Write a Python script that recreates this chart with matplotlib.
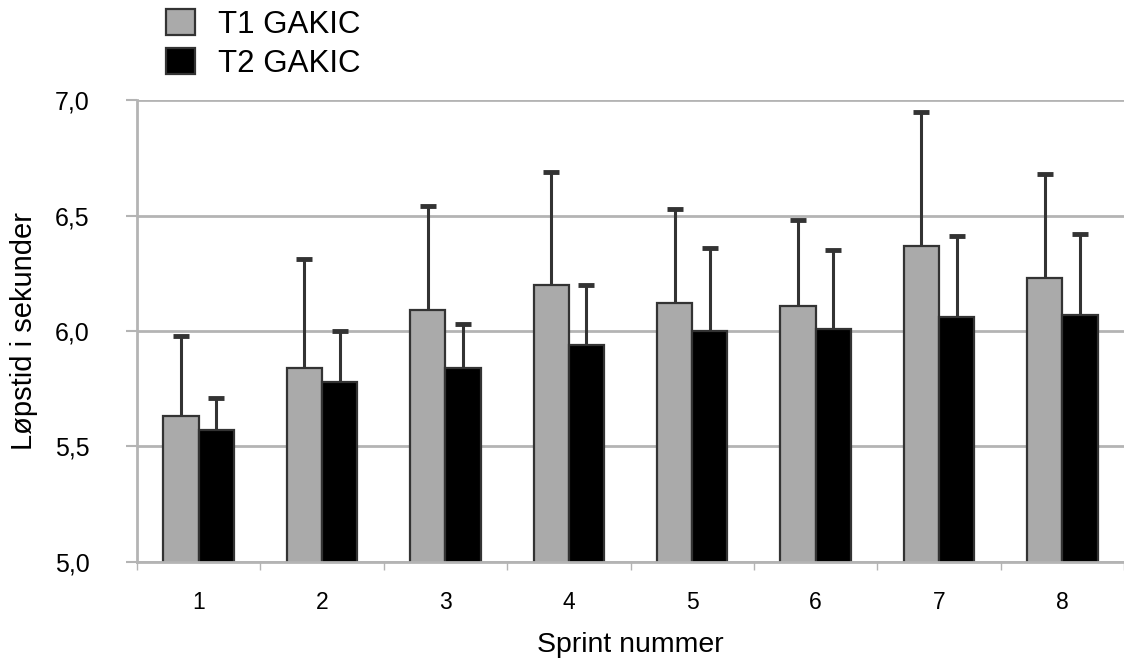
import matplotlib.pyplot as plt
import numpy as np
from matplotlib.patches import Patch
from matplotlib.ticker import FuncFormatter

plt.rcParams['font.family'] = ['Liberation Sans', 'DejaVu Sans']

sprints = [1, 2, 3, 4, 5, 6, 7, 8]
t1_mean = [5.63, 5.84, 6.09, 6.20, 6.12, 6.11, 6.37, 6.23]
t1_sd = [0.35, 0.47, 0.45, 0.49, 0.41, 0.37, 0.58, 0.45]
t2_mean = [5.57, 5.78, 5.84, 5.94, 6.00, 6.01, 6.06, 6.07]
t2_sd = [0.14, 0.22, 0.19, 0.26, 0.36, 0.34, 0.35, 0.35]

x = np.array(sprints)
w = 0.286
grey = '#aaaaaa'
edge = '#333333'
gridc = '#b4b4b4'

fig = plt.figure(figsize=(11.24, 6.61), dpi=100)
ax = fig.add_axes([0.1219, 0.1498, 0.8781, 0.6989])

ax.set_axisbelow(True)
ax.yaxis.grid(True, color=gridc, lw=2)

ax.bar(x - w/2, t1_mean, w, color=grey, edgecolor=edge, lw=1.6, zorder=2)
ax.bar(x + w/2, t2_mean, w, color='black', edgecolor=edge, lw=1.6, zorder=2)

# only the upper half of the SD is shown, so drop the lower caps
for xs, m, sd in [(x - w/2, t1_mean, t1_sd), (x + w/2, t2_mean, t2_sd)]:
    eb = ax.errorbar(xs, m, yerr=[np.zeros(8), sd], fmt='none', ecolor=edge,
                     elinewidth=2.2, capsize=6, capthick=3.5, zorder=3)
    eb[1][0].set_visible(False)

ax.set_ylim(5.0, 7.0)
ax.set_xlim(0.5, 8.5)
ax.set_yticks([5.0, 5.5, 6.0, 6.5, 7.0])
ax.yaxis.set_major_formatter(FuncFormatter(lambda v, p: f'{v:.1f}'.replace('.', ',')))
ax.tick_params(axis='y', length=8, width=1.5, color=gridc, labelsize=18, pad=26)

ax.set_xticks(x)
ax.set_xticklabels([str(s) for s in sprints])
ax.set_xticks(np.arange(0.5, 9.0, 1.0), minor=True)
ax.tick_params(axis='x', which='major', length=0, labelsize=16.5, pad=21)
ax.tick_params(axis='x', which='minor', length=6, width=1, color=gridc)

for s in ['top', 'right']:
    ax.spines[s].set_visible(False)
for s in ['left', 'bottom']:
    ax.spines[s].set_color(gridc)
    ax.spines[s].set_linewidth(2)

ax.set_ylabel('Løpstid i sekunder', fontsize=21, labelpad=12)
ax.set_xlabel('Sprint nummer', fontsize=20.5, labelpad=13)

handles = [Patch(facecolor=grey, edgecolor=edge, lw=1.6, label='T1 GAKIC'),
           Patch(facecolor='black', edgecolor=edge, lw=1.6, label='T2 GAKIC')]
fig.legend(handles=handles, loc='upper left', bbox_to_anchor=(0.137, 1.005),
           frameon=False, fontsize=22.5, handlelength=0.9, handleheight=0.9,
           handletextpad=0.75, labelspacing=0.25, borderaxespad=0)

fig.savefig('out.png', dpi=100)
